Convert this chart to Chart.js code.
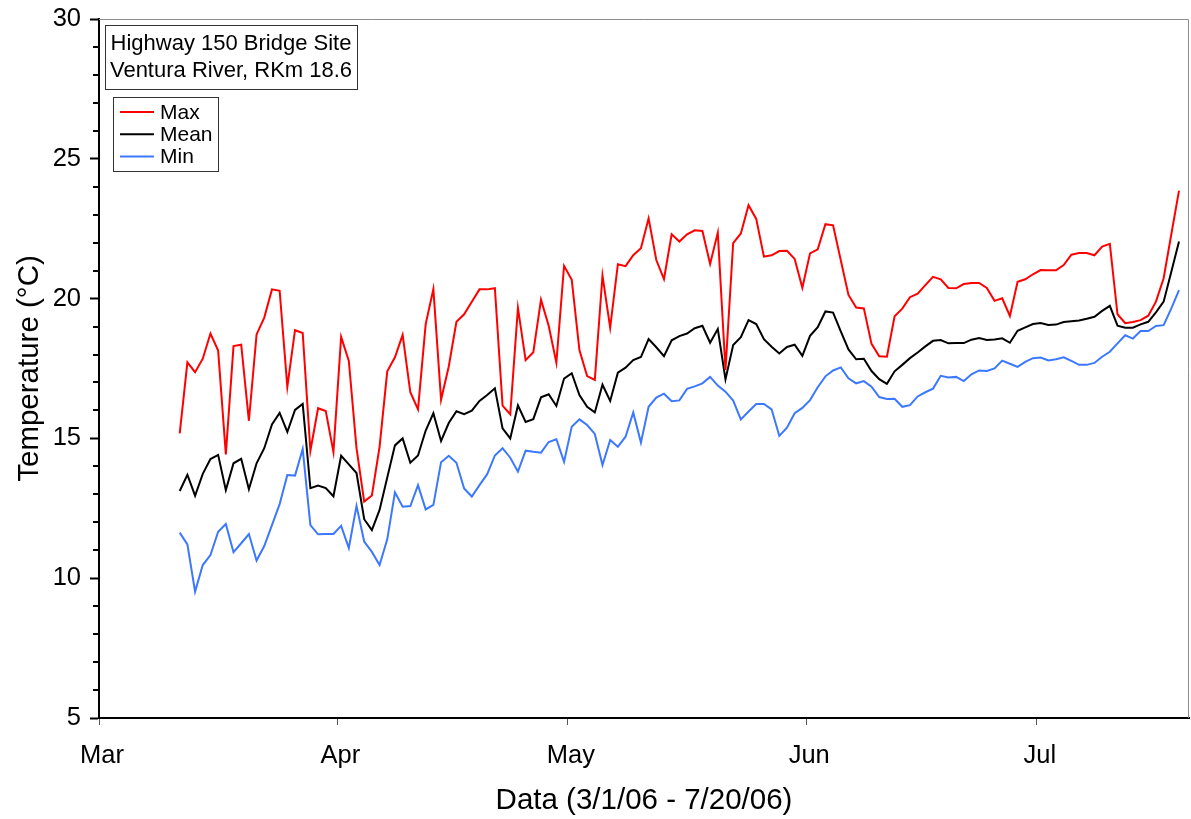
<!DOCTYPE html>
<html>
<head>
<meta charset="utf-8">
<script src="https://cdn.jsdelivr.net/npm/chart.js@4.4.1/dist/chart.umd.min.js"></script>
<style>
  html, body { margin: 0; padding: 0; background: #fff; }
  #wrap { width: 1191px; height: 819px; position: relative; }
</style>
</head>
<body>
<div id="wrap"><canvas id="c" width="1191" height="819"></canvas></div>
<script>
// Site label, axis titles, month ticks
const siteTitle = ['Highway 150 Bridge Site', 'Ventura River, RKm 18.6'];
const xTitle = 'Data (3/1/06 - 7/20/06)';
const yTitle = 'Temperature (°C)';
const axisStart = '2006-03-01';
const firstDay = '2006-03-11';
const monthLabels = ['Mar', 'Apr', 'May', 'Jun', 'Jul'];
const monthStarts = ['2006-03-01', '2006-04-01', '2006-05-01', '2006-06-01', '2006-07-01'];
const seriesNames = ['Max', 'Mean', 'Min'];

// Daily water temperature (°C), one value per day from 3/11/06
const maxTemp = [
  15.18, 17.72, 17.37, 17.85, 18.75, 18.14, 14.43, 18.30, 18.35, 15.63,
  18.72, 19.32, 20.33, 20.28, 16.84, 18.87, 18.77, 14.56, 16.08, 15.98,
  14.51, 18.63, 17.77, 14.65, 12.74, 12.96, 14.70, 17.40, 17.90, 18.70,
  16.65, 16.04, 19.09, 20.34, 16.38, 17.57, 19.17, 19.44, 19.89, 20.33,
  20.33, 20.37, 16.17, 15.86, 19.67, 17.80, 18.08, 19.96, 19.03, 17.71,
  21.17, 20.67, 18.16, 17.23, 17.09, 20.82, 18.96, 21.23, 21.16, 21.55,
  21.80, 22.87, 21.38, 20.70, 22.30, 22.04, 22.30, 22.44, 22.42, 21.24,
  22.36, 17.45, 21.98, 22.33, 23.34, 22.85, 21.50, 21.55, 21.70, 21.71,
  21.42, 20.39, 21.62, 21.76, 22.66, 22.62, 21.37, 20.13, 19.68, 19.65,
  18.38, 17.94, 17.92, 19.37, 19.64, 20.05, 20.18, 20.48, 20.78, 20.69,
  20.38, 20.37, 20.52, 20.56, 20.56, 20.38, 19.92, 20.01, 19.38, 20.60,
  20.69, 20.87, 21.02, 21.01, 21.01, 21.20, 21.57, 21.63, 21.63, 21.55,
  21.86, 21.96, 19.44, 19.12, 19.16, 19.23, 19.39, 19.89, 20.73, 22.30,
  23.86
];
const meanTemp = [
  13.12, 13.70, 12.95, 13.73, 14.26, 14.41, 13.15, 14.11, 14.27, 13.18,
  14.11, 14.65, 15.50, 15.91, 15.23, 16.02, 16.23, 13.22, 13.31, 13.22,
  12.93, 14.38, 14.07, 13.76, 12.11, 11.72, 12.44, 13.60, 14.75, 15.00,
  14.13, 14.39, 15.28, 15.90, 14.91, 15.55, 15.97, 15.87, 15.99, 16.34,
  16.55, 16.79, 15.36, 15.00, 16.18, 15.59, 15.69, 16.47, 16.58, 16.16,
  17.14, 17.33, 16.55, 16.13, 15.93, 16.92, 16.34, 17.35, 17.53, 17.80,
  17.91, 18.55, 18.26, 17.94, 18.51, 18.66, 18.75, 18.94, 19.03, 18.42,
  18.91, 17.11, 18.34, 18.62, 19.23, 19.09, 18.55, 18.28, 18.04, 18.27,
  18.35, 17.95, 18.67, 18.98, 19.54, 19.50, 18.83, 18.18, 17.83, 17.85,
  17.41, 17.12, 16.95, 17.40, 17.63, 17.87, 18.07, 18.29, 18.49, 18.52,
  18.40, 18.41, 18.41, 18.53, 18.59, 18.52, 18.54, 18.58, 18.42, 18.85,
  18.97, 19.09, 19.13, 19.06, 19.07, 19.16, 19.19, 19.22, 19.28, 19.35,
  19.56, 19.74, 19.03, 18.96, 18.96, 19.08, 19.17, 19.51, 19.89, 20.96,
  22.04
];
const minTemp = [
  11.63, 11.21, 9.52, 10.47, 10.83, 11.66, 11.94, 10.93, 11.25, 11.58,
  10.63, 11.15, 11.90, 12.65, 13.69, 13.67, 14.62, 11.90, 11.57, 11.58,
  11.58, 11.87, 11.08, 12.59, 11.31, 10.94, 10.47, 11.39, 13.07, 12.56,
  12.58, 13.33, 12.46, 12.62, 14.15, 14.38, 14.13, 13.21, 12.92, 13.33,
  13.72, 14.39, 14.65, 14.31, 13.81, 14.56, 14.52, 14.49, 14.87, 14.97,
  14.16, 15.42, 15.68, 15.48, 15.16, 14.05, 14.94, 14.70, 15.06, 15.93,
  14.85, 16.13, 16.46, 16.60, 16.33, 16.36, 16.77, 16.86, 16.97, 17.20,
  16.89, 16.67, 16.35, 15.68, 15.96, 16.23, 16.23, 16.04, 15.09, 15.38,
  15.90, 16.09, 16.37, 16.83, 17.22, 17.43, 17.54, 17.15, 16.97, 17.05,
  16.85, 16.48, 16.41, 16.42, 16.13, 16.19, 16.50, 16.65, 16.78, 17.24,
  17.18, 17.20, 17.05, 17.29, 17.43, 17.41, 17.50, 17.78, 17.67, 17.56,
  17.74, 17.87, 17.89, 17.79, 17.83, 17.90, 17.77, 17.63, 17.63, 17.70,
  17.92, 18.10, 18.40, 18.69, 18.57, 18.84, 18.84, 19.02, 19.05, 19.65,
  20.30
];

const FONT = '"Liberation Sans", Arial, Helvetica, sans-serif';
const DAY_MS = 86400000;
const dayOffset = d => (Date.parse(d + 'T00:00:00Z') - Date.parse(axisStart + 'T00:00:00Z')) / DAY_MS;

// each daily value sits at midday of its date on a day-number axis
const toPoints = arr => arr.map((v, i) => ({ x: dayOffset(firstDay) + i + 0.5, y: v }));

const seriesColors = ['#ff0000', '#000000', '#3c78ff'];
const seriesData = [maxTemp, meanTemp, minTemp];

const decor = {
  id: 'decor',
  afterDraw(chart) {
    const { ctx, chartArea: a, scales: { y } } = chart;
    ctx.save();

    // thin grey frame on top and right
    ctx.strokeStyle = '#8c8c8c';
    ctx.lineWidth = 1;
    ctx.beginPath();
    ctx.moveTo(a.left, a.top + 0.5);
    ctx.lineTo(a.right - 0.5, a.top + 0.5);
    ctx.lineTo(a.right - 0.5, a.bottom);
    ctx.stroke();

    // minor ticks on the temperature axis
    ctx.strokeStyle = '#000';
    ctx.lineWidth = 2;
    for (let v = y.min; v <= y.max; v++) {
      if (v % 5 === 0) continue;
      const py = Math.round(y.getPixelForValue(v));
      ctx.beginPath();
      ctx.moveTo(a.left - 6, py);
      ctx.lineTo(a.left, py);
      ctx.stroke();
    }

    // site label box
    const bx = a.left + 6, by = a.top + 6, bw = 252, bh = 64;
    ctx.fillStyle = '#fff';
    ctx.fillRect(bx, by, bw, bh);
    ctx.strokeStyle = '#333';
    ctx.lineWidth = 1;
    ctx.strokeRect(bx + 0.5, by + 0.5, bw, bh);
    ctx.fillStyle = '#000';
    ctx.font = '22px ' + FONT;
    ctx.textAlign = 'center';
    ctx.textBaseline = 'middle';
    siteTitle.forEach((t, i) => ctx.fillText(t, bx + bw / 2, by + 19 + i * 27));

    // legend box
    const lx = a.left + 14, ly = a.top + 78, lw = 105, lh = 74;
    ctx.fillStyle = '#fff';
    ctx.fillRect(lx, ly, lw, lh);
    ctx.strokeStyle = '#333';
    ctx.strokeRect(lx + 0.5, ly + 0.5, lw, lh);
    ctx.textAlign = 'left';
    ctx.font = '21px ' + FONT;
    chart.data.datasets.forEach((ds, i) => {
      const yy = ly + 15 + i * 22.3;
      ctx.strokeStyle = ds.borderColor;
      ctx.lineWidth = 2;
      ctx.beginPath();
      ctx.moveTo(lx + 7, yy);
      ctx.lineTo(lx + 41, yy);
      ctx.stroke();
      ctx.fillStyle = '#000';
      ctx.fillText(ds.label, lx + 47, yy + 1);
    });
    ctx.restore();
  }
};

new Chart(document.getElementById('c'), {
  type: 'line',
  data: {
    datasets: seriesNames.map((name, i) => ({
      label: name,
      data: toPoints(seriesData[i]),
      borderColor: seriesColors[i],
      backgroundColor: seriesColors[i],
      borderWidth: 2,
      pointRadius: 0,
      tension: 0,
      fill: false
    }))
  },
  options: {
    responsive: false,
    animation: false,
    layout: { padding: { top: 19, right: 2, left: 0, bottom: 0 } },
    plugins: { legend: { display: false }, tooltip: { enabled: false } },
    scales: {
      x: {
        type: 'linear',
        min: 0,
        max: 141.8,
        afterBuildTicks: s => { s.ticks = monthStarts.map(d => ({ value: dayOffset(d) })); },
        ticks: {
          callback: (v, i) => monthLabels[i],
          autoSkip: false,
          maxRotation: 0,
          font: { family: FONT, size: 25.5 },
          color: '#000',
          padding: 16,
          labelOffset: 3
        },
        grid: { drawOnChartArea: false, tickLength: 7, tickColor: '#555', tickWidth: 1 },
        border: { color: '#000', width: 2 },
        title: {
          display: true, text: xTitle, color: '#000',
          font: { family: FONT, size: 29.5, lineHeight: 1 },
          padding: { top: 0, bottom: 3 }
        },
        afterFit: s => { s.height = 101; }
      },
      y: {
        min: 5,
        max: 30,
        ticks: { stepSize: 5, font: { family: FONT, size: 25.5 }, color: '#000', padding: 9 },
        grid: { drawOnChartArea: false, tickLength: 9, tickColor: '#000', tickWidth: 2 },
        border: { color: '#000', width: 2 },
        title: {
          display: true, text: yTitle, color: '#000',
          font: { family: FONT, size: 29.5, lineHeight: 1 },
          padding: { top: 15, bottom: 0 }
        },
        afterFit: s => { s.width = 99; s.paddingTop = 0; s.paddingBottom = 0; }
      }
    }
  },
  plugins: [decor]
});
</script>
</body>
</html>
